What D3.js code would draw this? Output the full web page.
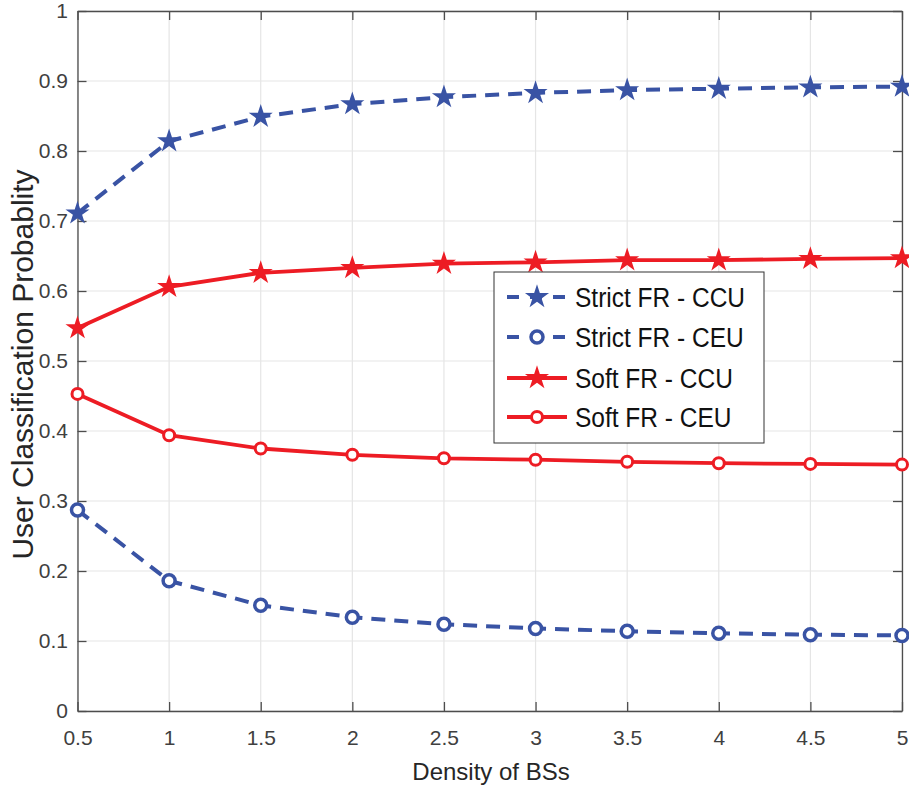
<!DOCTYPE html>
<html><head><meta charset="utf-8">
<script src="https://cdn.jsdelivr.net/npm/d3@7"></script>
<style>body{margin:0;background:#fff;} svg{display:block;}</style>
</head><body>
<script>
const xValues = [0.5,1,1.5,2,2.5,3,3.5,4,4.5,5];
const strictCCU = [0.711,0.814,0.849,0.867,0.877,0.883,0.887,0.889,0.891,0.892];
const strictCEU = [0.287,0.186,0.151,0.134,0.124,0.118,0.114,0.111,0.109,0.108];
const softCCU = [0.547,0.606,0.626,0.633,0.639,0.641,0.644,0.644,0.646,0.647];
const softCEU = [0.453,0.394,0.375,0.366,0.361,0.359,0.356,0.354,0.353,0.352];
const xTicks = [0.5,1,1.5,2,2.5,3,3.5,4,4.5,5];
const yTicks = [0,0.1,0.2,0.3,0.4,0.5,0.6,0.7,0.8,0.9,1];
const seriesNames = ["Strict FR - CCU","Strict FR - CEU","Soft FR - CCU","Soft FR - CEU"];

const W=909,H=793;
const L=77.5,R=902,T=11,B=711;
const blue="#3953A4", red="#ED1C24";
const FONT="'Liberation Sans', Arial, Helvetica, sans-serif";
const svg=d3.select("body").append("svg").attr("width",W).attr("height",H);
const x=d3.scaleLinear().domain([0.5,5]).range([L,R]);
const y=d3.scaleLinear().domain([0,1]).range([B,T]);

// grid
const g=svg.append("g");
g.selectAll(".gx").data(xTicks).enter().append("line")
 .attr("x1",d=>x(d)).attr("x2",d=>x(d)).attr("y1",T).attr("y2",B)
 .attr("stroke","#e5e5e5").attr("stroke-width",1.2);
g.selectAll(".gy").data(yTicks).enter().append("line")
 .attr("y1",d=>y(d)).attr("y2",d=>y(d)).attr("x1",L).attr("x2",R)
 .attr("stroke","#e5e5e5").attr("stroke-width",1.2);

// axes
const fmt=d=>d3.format("")(d);
const axB=svg.append("g").attr("transform",`translate(0,${B})`)
 .call(d3.axisBottom(x).tickValues(xTicks).tickFormat(fmt).tickSizeInner(-9).tickSizeOuter(0).tickPadding(19));
const axT=svg.append("g").attr("transform",`translate(0,${T})`)
 .call(d3.axisTop(x).tickValues(xTicks).tickFormat("").tickSizeInner(-9).tickSizeOuter(0));
const axL=svg.append("g").attr("transform",`translate(${L},0)`)
 .call(d3.axisLeft(y).tickValues(yTicks).tickFormat(fmt).tickSizeInner(-9).tickSizeOuter(0).tickPadding(9.5));
const axR=svg.append("g").attr("transform",`translate(${R},0)`)
 .call(d3.axisRight(y).tickValues(yTicks).tickFormat("").tickSizeInner(-9).tickSizeOuter(0));
[axB,axT,axL,axR].forEach(a=>{
  a.selectAll("path").attr("stroke","#4d4d4d").attr("stroke-width",1.3);
  a.selectAll("line").attr("stroke","#4d4d4d").attr("stroke-width",1.3);
  a.selectAll("text").attr("fill","#404040").style("font-family",FONT).style("font-size","21px");
});

// series
const star=d3.symbol().type(d3.symbolStar).size(180);
const series=[
 {name:seriesNames[0],vals:strictCCU,color:blue,dash:"14,9",w:4,marker:"star",r:6,sw:3.5},
 {name:seriesNames[1],vals:strictCEU,color:blue,dash:"14,9",w:4,marker:"circle",r:6,sw:3.5},
 {name:seriesNames[2],vals:softCCU,color:red,dash:null,w:3.8,marker:"star",r:5.5,sw:3},
 {name:seriesNames[3],vals:softCEU,color:red,dash:null,w:3.8,marker:"circle",r:5.5,sw:3}
];
const line=d3.line().x(d=>x(d[0])).y(d=>y(d[1]));
series.forEach(s=>{
  const pts=xValues.map((xv,i)=>[xv,s.vals[i]]);
  svg.append("path").datum(pts).attr("d",line).attr("fill","none")
   .attr("stroke",s.color).attr("stroke-width",s.w).attr("stroke-dasharray",s.dash);
  if(s.marker==="star"){
    svg.selectAll(null).data(pts).enter().append("path").attr("d",star)
     .attr("transform",d=>`translate(${x(d[0])},${y(d[1])})`).attr("fill",s.color);
  } else {
    svg.selectAll(null).data(pts).enter().append("circle")
     .attr("cx",d=>x(d[0])).attr("cy",d=>y(d[1])).attr("r",s.r)
     .attr("fill","#fff").attr("stroke",s.color).attr("stroke-width",s.sw);
  }
});

// legend
const lg=svg.append("g");
lg.append("rect").attr("x",494).attr("y",272).attr("width",270).attr("height",171)
 .attr("fill","#fff").attr("stroke","#333").attr("stroke-width",1);
const rows=[297,337,378,417];
series.forEach((s,i)=>{
  const cy=rows[i];
  lg.append("line").attr("x1",507).attr("x2",567).attr("y1",cy).attr("y2",cy)
   .attr("stroke",s.color).attr("stroke-width",s.w).attr("stroke-dasharray",s.dash?"12,11":null);
  if(s.marker==="star"){
    lg.append("path").attr("d",star).attr("transform",`translate(537,${cy})`).attr("fill",s.color);
  } else {
    lg.append("circle").attr("cx",537).attr("cy",cy).attr("r",s.r).attr("fill","#fff")
     .attr("stroke",s.color).attr("stroke-width",s.sw);
  }
  lg.append("text").attr("transform",`translate(575,${cy+10}) scale(0.875,1)`).text(s.name)
   .style("font-family",FONT).style("font-size","28px").attr("fill","#111");
});

// axis titles
svg.append("text").attr("x",491).attr("y",780).attr("text-anchor","middle")
 .style("font-family",FONT).style("font-size","24px").attr("fill","#262626")
 .text("Density of BSs");
svg.append("text").attr("transform","translate(33,364.5) rotate(-90)").attr("text-anchor","middle")
 .style("font-family",FONT).style("font-size","30px").attr("fill","#262626")
 .text("User Classification Probablity");
</script>
</body></html>
